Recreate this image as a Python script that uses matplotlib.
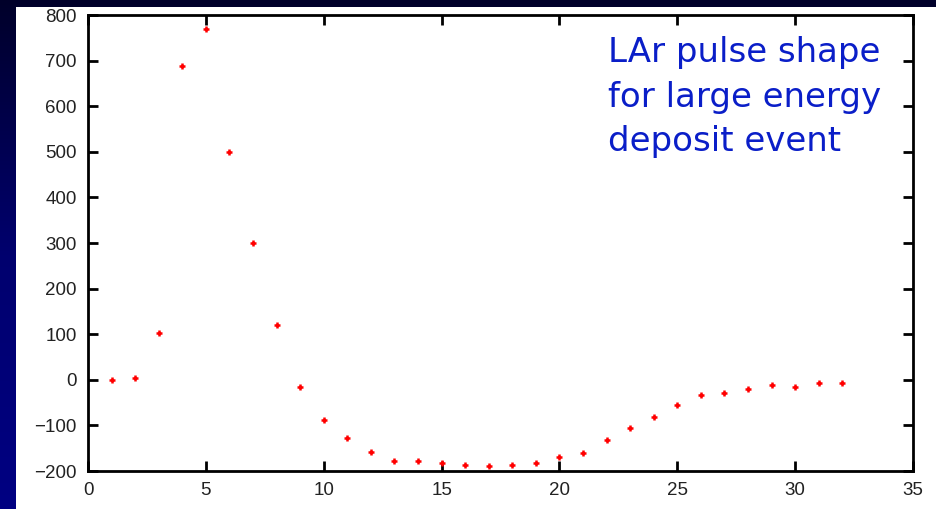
import matplotlib
import numpy as np

matplotlib.use("Agg")
import matplotlib.pyplot as plt
from matplotlib.colors import LinearSegmentedColormap


# sample index and pulse amplitude
samples = list(range(1, 33))
amplitude = [
    0, 5, 103, 688, 769, 500, 299, 120, -16, -88,
    -127, -158, -179, -179, -182, -187, -190, -187, -182, -169,
    -161, -131, -106, -81, -55, -34, -30, -21, -12, -16,
    -8, -8,
]
x_ticks = [0, 5, 10, 15, 20, 25, 30, 35]
y_ticks = [-200, -100, 0, 100, 200, 300, 400, 500, 600, 700, 800]
note = "LAr pulse shape\nfor large energy\ndeposit event"


def main():
    fig = plt.figure(figsize=(9.36, 5.09), dpi=100)

    # dark blue slide background
    bg = fig.add_axes([0, 0, 1, 1])
    cmap = LinearSegmentedColormap.from_list("slide", ["#00002a", "#00006e", "#000082"])
    grad = np.linspace(0, 1, 256).reshape(-1, 1)
    bg.imshow(grad, cmap=cmap, aspect="auto", extent=[0, 1, 0, 1], origin="upper")
    bg.set_axis_off()

    # white panel behind the plot
    panel = fig.add_axes([16 / 936, 0, 920 / 936, 502 / 509])
    panel.set_facecolor("white")
    panel.set_xticks([])
    panel.set_yticks([])
    for s in panel.spines.values():
        s.set_visible(False)

    ax = fig.add_axes([88 / 936, 1 - 471 / 509, (913 - 88) / 936, (471 - 15) / 509])
    ax.set_facecolor("white")
    ax.plot(samples, amplitude, linestyle="none", marker="+", markersize=5,
            markeredgewidth=1.8, color="red")

    ax.set_xlim(0, 35)
    ax.set_ylim(-200, 800)
    ax.set_xticks(x_ticks)
    ax.set_yticks(y_ticks)
    ax.set_yticklabels([str(v).replace("-", "\u2212") for v in y_ticks])
    ax.tick_params(direction="in", length=7, width=2, top=True, right=True,
                   labelsize=13.5, labelcolor="#222222", pad=8)
    for s in ax.spines.values():
        s.set_linewidth(2)
    for lbl in ax.get_xticklabels() + ax.get_yticklabels():
        lbl.set_family("Liberation Sans")

    fig.text(608 / 936, 1 - 36 / 509, note, color="#0a1ec8", fontsize=24.5,
             family="DejaVu Sans", va="top", ha="left", linespacing=1.45)

    fig.savefig("out.png", dpi=100)
    plt.close(fig)


if __name__ == "__main__":
    main()
